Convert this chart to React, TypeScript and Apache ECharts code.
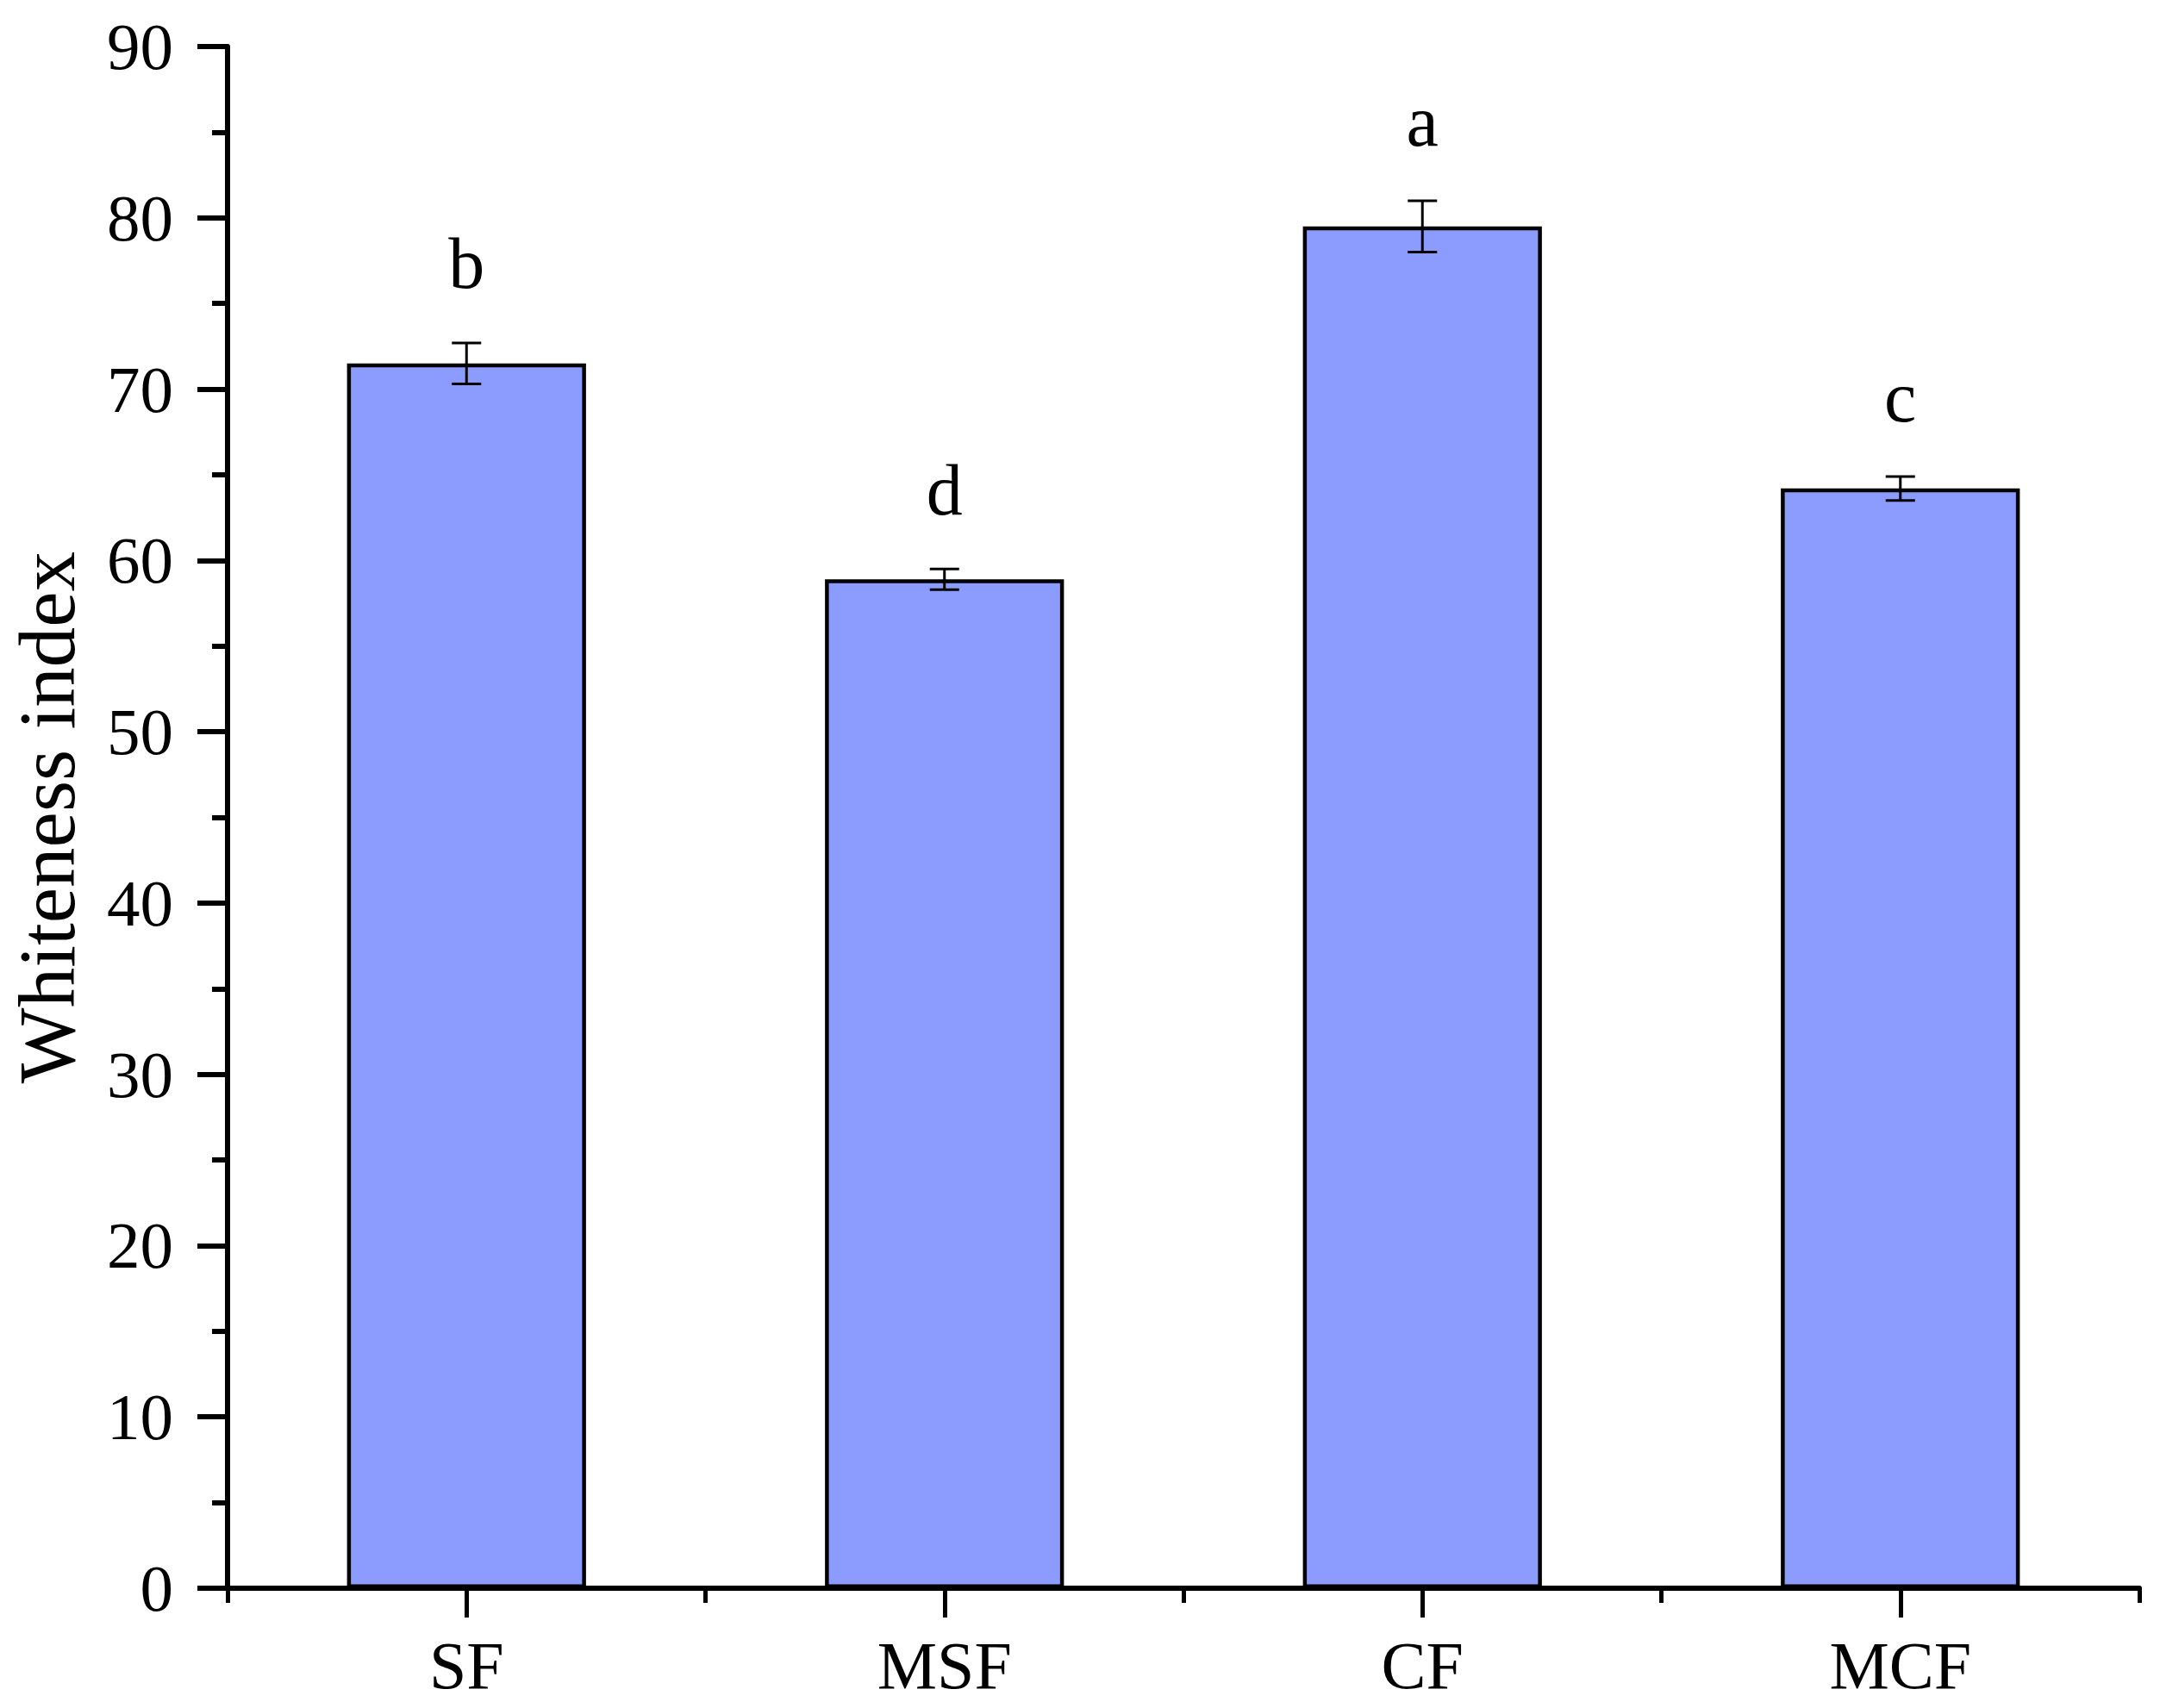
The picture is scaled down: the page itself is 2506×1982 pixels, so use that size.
import React, { useEffect, useRef } from "react";
import * as echarts from "echarts";

const categories = ["SF", "MSF", "CF", "MCF"];
const values = [71.5, 58.9, 79.5, 64.2];
const errors = [1.2, 0.6, 1.5, 0.7];
const letters = ["b", "d", "a", "c"];
const yTicks = { min: 0, max: 90, interval: 10 };
const yTitle = "Whiteness index";

const FONT = "'Times New Roman', 'Liberation Serif', serif";

export default function App() {
  const ref = useRef<HTMLDivElement>(null);
  useEffect(() => {
    if (!ref.current) return;
    const chart = echarts.init(ref.current, null, { renderer: "svg" });
    const errData = values.map((v, i) => [i, v, errors[i], letters[i]]);
    chart.setOption({
      animation: false,
      backgroundColor: "#ffffff",
      grid: { left: 262, right: 24, top: 54, bottom: 139, containLabel: false },
      xAxis: [
        {
          type: "category",
          data: categories,
          position: "bottom",
          boundaryGap: true,
          axisLine: { show: true, lineStyle: { color: "#000", width: 6 } },
          axisTick: { show: true, alignWithLabel: true, length: 34, lineStyle: { color: "#000", width: 5 } },
          axisLabel: { color: "#000", fontFamily: FONT, fontSize: 78, margin: 50 },
          splitLine: { show: false },
        },
        {
          type: "category",
          data: categories,
          position: "bottom",
          boundaryGap: true,
          axisLine: { show: false },
          axisTick: { show: true, length: 17, lineStyle: { color: "#000", width: 5 } },
          axisLabel: { show: false },
          splitLine: { show: false },
        },
      ],
      yAxis: {
        type: "value",
        min: yTicks.min,
        max: yTicks.max,
        interval: yTicks.interval,
        name: yTitle,
        nameLocation: "middle",
        nameGap: 163,
        nameTextStyle: { color: "#000", fontFamily: FONT, fontSize: 93 },
        axisLine: { show: true, lineStyle: { color: "#000", width: 6 } },
        axisTick: { show: true, length: 35, lineStyle: { color: "#000", width: 6 } },
        minorTick: { show: true, splitNumber: 2, length: 18, lineStyle: { color: "#000", width: 6 } },
        axisLabel: { color: "#000", fontFamily: FONT, fontSize: 77, margin: 63 },
        splitLine: { show: false },
        minorSplitLine: { show: false },
      },
      series: [
        {
          type: "bar",
          data: values,
          xAxisIndex: 0,
          barWidth: "50%",
          itemStyle: { color: "#8C9BFE", borderColor: "#000", borderWidth: 4.5 },
        },
        {
          type: "custom",
          xAxisIndex: 0,
          data: errData,
          encode: { x: 0, y: 1 },
          z: 5,
          renderItem: (params: any, api: any) => {
            const i = api.value(0);
            const v = api.value(1);
            const e = api.value(2);
            const top = api.coord([i, v + e]);
            const bot = api.coord([i, v - e]);
            const hw = 17;
            const style = { stroke: "#000", lineWidth: 3 };
            return {
              type: "group",
              children: [
                { type: "line", shape: { x1: top[0], y1: top[1], x2: bot[0], y2: bot[1] }, style },
                { type: "line", shape: { x1: top[0] - hw, y1: top[1], x2: top[0] + hw, y2: top[1] }, style },
                { type: "line", shape: { x1: bot[0] - hw, y1: bot[1], x2: bot[0] + hw, y2: bot[1] }, style },
                {
                  type: "text",
                  x: top[0],
                  y: top[1] - 50,
                  style: {
                    text: letters[params.dataIndex],
                    fill: "#000",
                    font: `84px ${FONT}`,
                    align: "center",
                    verticalAlign: "bottom",
                  },
                },
              ],
            };
          },
        },
      ],
    });
    return () => chart.dispose();
  }, []);
  return (
    <div
      ref={ref}
      style={{ position: "fixed", left: 0, top: 0, width: 2506, height: 1982, background: "#fff" }}
    />
  );
}
